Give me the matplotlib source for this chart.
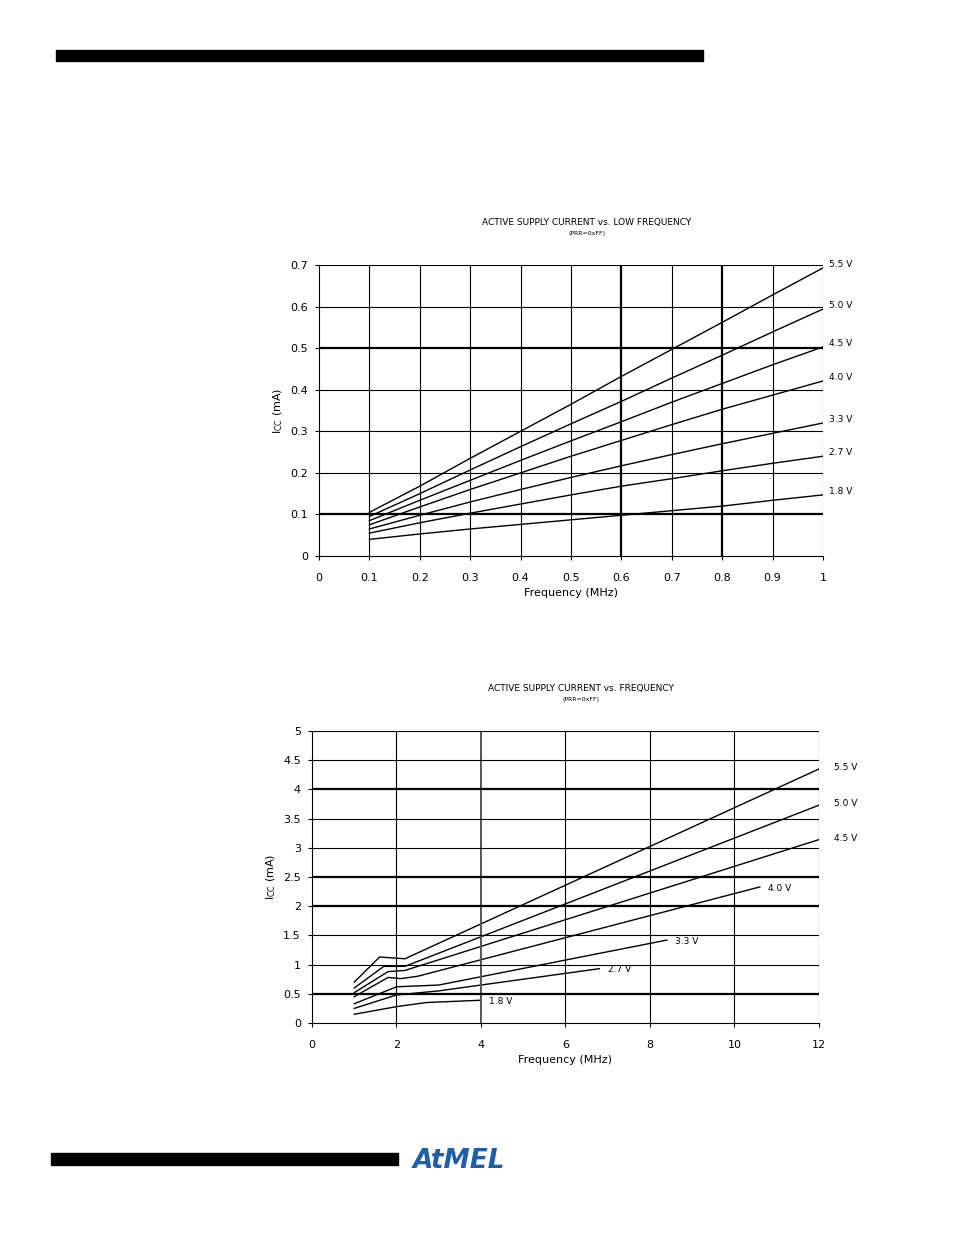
import matplotlib.pyplot as plt

# top chart: low frequency
lf_labels = ['5.5 V', '5.0 V', '4.5 V', '4.0 V', '3.3 V', '2.7 V', '1.8 V']
lf_freq = [0.1, 0.2, 0.3, 0.4, 0.5, 0.6, 0.7, 0.8, 0.9, 1.0]
lf_icc = [
    [0.105, 0.168, 0.235, 0.300, 0.365, 0.432, 0.497, 0.562, 0.628, 0.693],
    [0.095, 0.150, 0.207, 0.263, 0.318, 0.372, 0.428, 0.483, 0.539, 0.594],
    [0.085, 0.134, 0.182, 0.230, 0.277, 0.323, 0.370, 0.415, 0.460, 0.503],
    [0.075, 0.118, 0.160, 0.200, 0.240, 0.278, 0.316, 0.353, 0.387, 0.421],
    [0.065, 0.098, 0.130, 0.160, 0.189, 0.217, 0.244, 0.270, 0.295, 0.320],
    [0.055, 0.080, 0.103, 0.125, 0.147, 0.168, 0.186, 0.205, 0.223, 0.240],
    [0.040, 0.053, 0.065, 0.076, 0.087, 0.098, 0.109, 0.120, 0.134, 0.147],
]

# bottom chart: full frequency
hf_labels = ['5.5 V', '5.0 V', '4.5 V', '4.0 V', '3.3 V', '2.7 V', '1.8 V']
hf_freq = [
    [1.0, 1.6, 2.2, 12.0],
    [1.0, 1.7, 2.2, 12.0],
    [1.0, 1.8, 2.2, 12.0],
    [1.0, 1.8, 2.1, 2.5, 10.6],
    [1.0, 2.0, 3.0, 8.4],
    [1.0, 2.0, 3.0, 6.8],
    [1.0, 2.0, 2.7, 4.0],
]
hf_icc = [
    [0.70, 1.13, 1.10, 4.35],
    [0.60, 0.97, 0.97, 3.73],
    [0.52, 0.88, 0.90, 3.14],
    [0.45, 0.78, 0.76, 0.80, 2.33],
    [0.33, 0.62, 0.65, 1.42],
    [0.25, 0.48, 0.55, 0.93],
    [0.15, 0.28, 0.35, 0.39],
]

fig = plt.figure(figsize=(9.54, 12.35), dpi=100)
W, H = 954, 1235


def box(x0, y0, x1, y1):
    return [x0 / W, 1 - y1 / H, (x1 - x0) / W, (y1 - y0) / H]


# header / footer bars
fig.patches.append(plt.Rectangle((56 / W, 1 - 61 / H), 647 / W, 11 / H, color='black', transform=fig.transFigure))
fig.patches.append(plt.Rectangle((51 / W, 1 - 1165 / H), 347 / W, 12 / H, color='black', transform=fig.transFigure))
fig.text(459 / W, 1 - 1161 / H, 'AtMEL', color='#1f5faa', fontsize=19, fontweight='bold', style='italic',
         ha='center', va='center', family='DejaVu Sans')

# top chart
ax1 = fig.add_axes(box(319, 265, 823, 556))
for v in lf_icc:
    ax1.plot(lf_freq, v, color='black', lw=1)
ax1.set_xlim(0, 1)
ax1.set_ylim(0, 0.7)
ax1.set_xticks([0, 0.1, 0.2, 0.3, 0.4, 0.5, 0.6, 0.7, 0.8, 0.9, 1])
ax1.set_xticklabels(['0', '0.1', '0.2', '0.3', '0.4', '0.5', '0.6', '0.7', '0.8', '0.9', '1'])
ax1.set_yticks([0, 0.1, 0.2, 0.3, 0.4, 0.5, 0.6, 0.7])
ax1.set_yticklabels(['0', '0.1', '0.2', '0.3', '0.4', '0.5', '0.6', '0.7'])
for x in ax1.get_xticks()[1:]:
    ax1.axvline(x, color='black', lw=1.6 if round(x, 1) in (0.6, 0.8) else 0.8)
for y in ax1.get_yticks()[1:]:
    ax1.axhline(y, color='black', lw=1.6 if round(y, 1) in (0.1, 0.5) else 0.8)
for lab, v in zip(lf_labels, lf_icc):
    ax1.text(1.012, v[-1] + 0.008, lab, fontsize=6.5, va='center', clip_on=False)
ax1.set_xlabel('Frequency (MHz)', fontsize=8)
ax1.set_ylabel('I$_{\\mathregular{CC}}$ (mA)', fontsize=8)
ax1.tick_params(labelsize=8, length=3, direction='out')
ax1.tick_params(axis='x', pad=9)
ax1.tick_params(axis='y', pad=5)
for s in ['top', 'right']:
    ax1.spines[s].set_visible(False)
fig.text(587 / W, 1 - 222 / H, 'ACTIVE SUPPLY CURRENT vs. LOW FREQUENCY', fontsize=6.5, ha='center', va='center')
fig.text(587 / W, 1 - 234 / H, '(PRR=0xFF)', fontsize=4.5, ha='center', va='center')

# bottom chart
ax2 = fig.add_axes(box(312, 731, 819, 1023))
for f, v in zip(hf_freq, hf_icc):
    ax2.plot(f, v, color='black', lw=1)
ax2.set_xlim(0, 12)
ax2.set_ylim(0, 5)
ax2.set_xticks([0, 2, 4, 6, 8, 10, 12])
ax2.set_yticks([0, 0.5, 1, 1.5, 2, 2.5, 3, 3.5, 4, 4.5, 5])
ax2.set_yticklabels(['0', '0.5', '1', '1.5', '2', '2.5', '3', '3.5', '4', '4.5', '5'])
for x in ax2.get_xticks()[1:]:
    ax2.axvline(x, color='#555555' if x == 4 else 'black', lw=1.4 if x == 4 else 0.8)
for y in ax2.get_yticks()[1:]:
    ax2.axhline(y, color='black', lw=1.6 if y in (0.5, 2, 2.5, 4) else 0.8)
for lab, f, v in zip(hf_labels, hf_freq, hf_icc):
    if f[-1] >= 12:
        ax2.text(12.35, v[-1] + 0.02, lab, fontsize=6.5, va='center', clip_on=False)
    else:
        ax2.text(f[-1] + 0.2, v[-1] - 0.02, lab, fontsize=6.5, va='center')
ax2.set_xlabel('Frequency (MHz)', fontsize=8)
ax2.set_ylabel('I$_{\\mathregular{CC}}$ (mA)', fontsize=8)
ax2.tick_params(labelsize=8, length=3, direction='out')
ax2.tick_params(axis='x', pad=9)
ax2.tick_params(axis='y', pad=5)
for s in ['top', 'right']:
    ax2.spines[s].set_visible(False)
fig.text(581 / W, 1 - 688 / H, 'ACTIVE SUPPLY CURRENT vs. FREQUENCY', fontsize=6.5, ha='center', va='center')
fig.text(581 / W, 1 - 700 / H, '(PRR=0xFF)', fontsize=4.5, ha='center', va='center')

fig.savefig('out.png', dpi=100)
